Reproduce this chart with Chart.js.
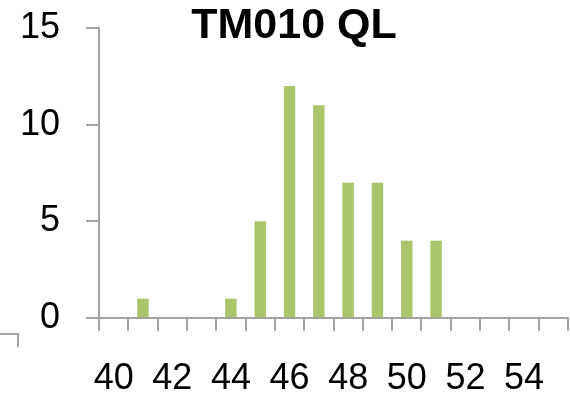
<!DOCTYPE html>
<html>
<head>
<meta charset="utf-8">
<script src="https://cdn.jsdelivr.net/npm/chart.js@4/dist/chart.umd.min.js"></script>
<style>
  html, body { margin: 0; padding: 0; background: #ffffff; }
  #wrap { width: 570px; height: 398px; position: relative; }
</style>
</head>
<body>
<div id="wrap"><canvas id="c" width="570" height="398"></canvas></div>
<script>
// Histogram of loaded Q for the TM010 mode
const categories = ['40','41','42','43','44','45','46','47','48','49','50','51','52','53','54','55'];
const counts     = [0, 1, 0, 0, 1, 5, 12, 11, 7, 7, 4, 4, 0, 0, 0, 0];
const xTickLabels = ['40','42','44','46','48','50','52','54'];
const yTicks = [0, 5, 10, 15];
const chartTitle = 'TM010 QL';

const axisGrey = '#a3a3a3';
const barGreen = '#abc56d';
const fontFamily = '"Liberation Sans", Arial, sans-serif';

const titlePlugin = {
  id: 'titleText',
  afterDraw(chart) {
    const ctx = chart.ctx;
    ctx.save();
    ctx.fillStyle = '#000';
    ctx.font = 'bold 43px ' + fontFamily;
    ctx.textAlign = 'center';
    ctx.textBaseline = 'alphabetic';
    ctx.fillText(chartTitle, 294, 38);
    // small bracket stub at the lower left corner
    ctx.strokeStyle = axisGrey;
    ctx.lineWidth = 2;
    ctx.beginPath();
    ctx.moveTo(0, 334);
    ctx.lineTo(18, 334);
    ctx.lineTo(18, 347);
    ctx.stroke();
    ctx.restore();
  }
};

new Chart(document.getElementById('c'), {
  type: 'bar',
  data: {
    labels: categories,
    datasets: [{
      data: counts,
      backgroundColor: barGreen,
      borderWidth: 0,
      categoryPercentage: 1.0,
      barPercentage: 0.39
    }]
  },
  options: {
    responsive: false,
    devicePixelRatio: 1,
    animation: false,
    layout: { padding: { top: 28, right: 2, left: 0, bottom: 0 } },
    plugins: {
      legend: { display: false },
      title: { display: false },
      tooltip: { enabled: false }
    },
    scales: {
      x: {
        offset: true,
        grid: {
          offset: true,
          drawOnChartArea: false,
          drawTicks: true,
          tickLength: 13,
          color: axisGrey,
          lineWidth: 2
        },
        border: { color: axisGrey, width: 2 },
        ticks: {
          autoSkip: false,
          maxRotation: 0,
          padding: 26,
          color: '#000',
          font: { family: fontFamily, size: 36 },
          callback(value) {
            const lab = this.getLabelForValue(value);
            return xTickLabels.includes(lab) ? lab : '';
          }
        },
        afterFit(scale) {
          scale.height = 80;
          scale.paddingLeft = 0;
          scale.paddingRight = 0;
        }
      },
      y: {
        min: 0,
        max: 15,
        grid: {
          drawOnChartArea: false,
          drawTicks: true,
          tickLength: 13,
          color: axisGrey,
          lineWidth: 2
        },
        border: { color: axisGrey, width: 2 },
        afterBuildTicks(scale) { scale.ticks = yTicks.map(v => ({ value: v })); },
        ticks: {
          padding: 26,
          color: '#000',
          font: { family: fontFamily, size: 36 }
        },
        afterFit(scale) {
          scale.width = 99;
          scale.paddingTop = 0;
          scale.paddingBottom = 0;
        }
      }
    }
  },
  plugins: [titlePlugin]
});
</script>
</body>
</html>
